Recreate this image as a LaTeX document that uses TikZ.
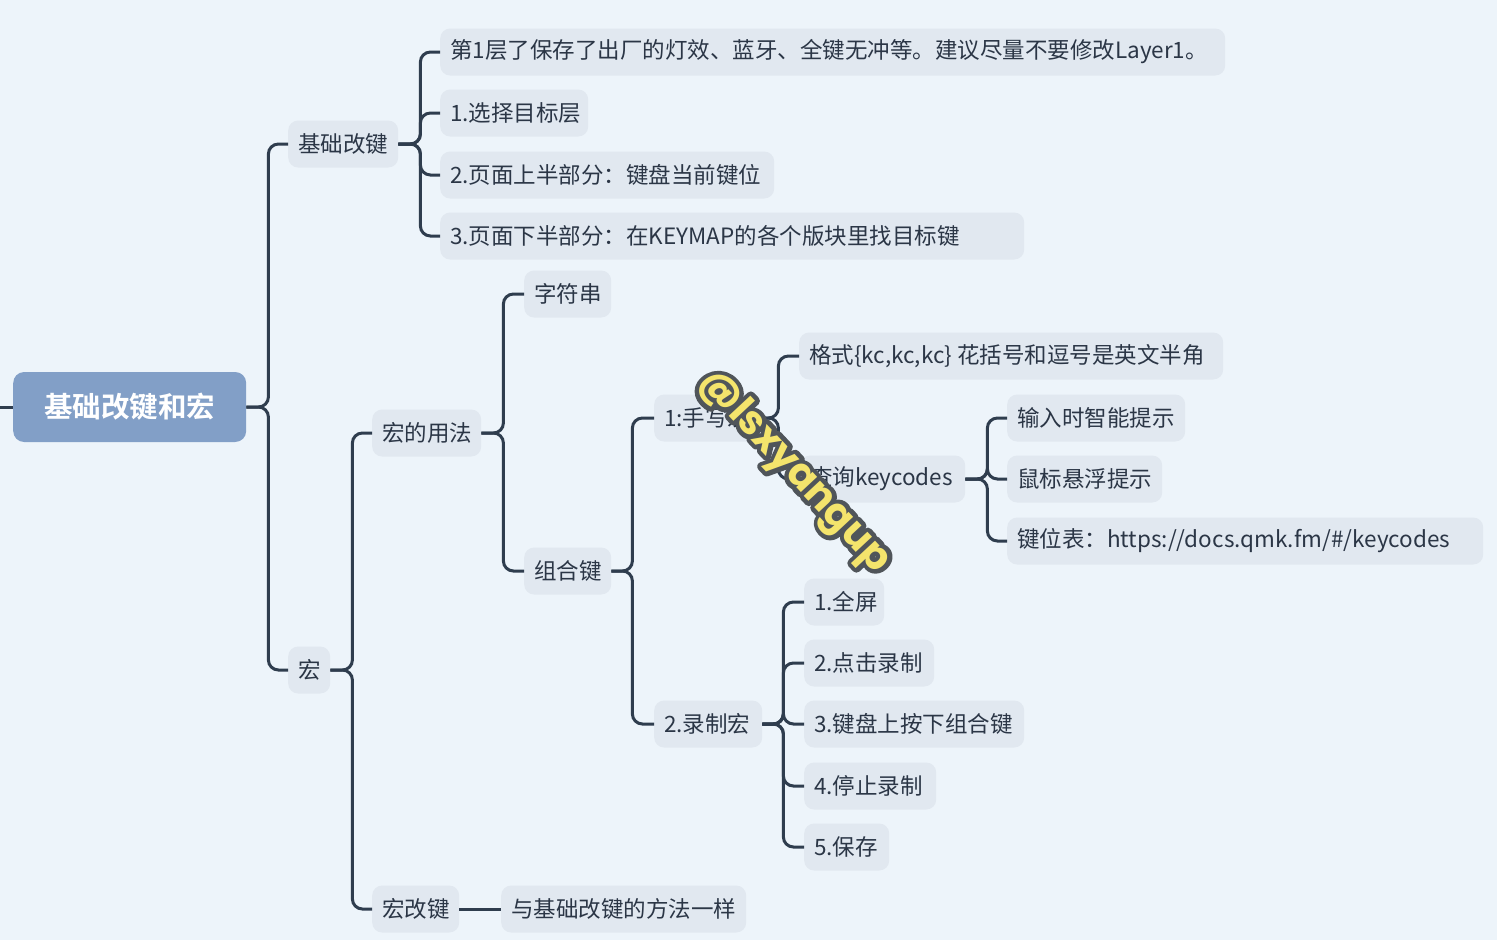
\documentclass[tikz,border=0pt]{standalone}
\usepackage{fontspec}
\setmainfont{Noto Sans CJK SC}[BoldFont={Noto Sans CJK SC Bold}]
\newfontfamily\wmfont{Poppins}
\definecolor{bgc}{HTML}{EDF4FA}
\definecolor{nodefill}{HTML}{E1E8F0}
\definecolor{rootfill}{HTML}{829FC7}
\definecolor{linec}{HTML}{2F3D4E}
\definecolor{txt}{HTML}{2B3646}
\definecolor{wmyellow}{HTML}{F4E46C}
\definecolor{wmout}{HTML}{50555A}
\newcommand\leafbox[2]{\makebox[#1pt][l]{#2}}
\newcommand\wmtext{@lsxyangup}
\begin{document}
\begin{tikzpicture}[x=1pt,y=-1pt,
  leaf/.style={fill=nodefill, rounded corners=10pt, minimum height=47pt,
    inner xsep=10pt, inner ysep=0pt, anchor=west, text=txt,
    font=\fontsize{22.5}{26}\selectfont},
  rootbox/.style={fill=rootfill, rounded corners=11pt, minimum height=70pt,
    minimum width=233pt, anchor=west, text=white,
    font=\fontsize{28.5}{33}\selectfont\bfseries},
  link/.style={draw=linec, line width=3pt, rounded corners=10pt},
  wm/.style={rotate=-47, font=\wmfont\bfseries\fontsize{40}{44}\selectfont}
]
\fill[bgc] (0,0) rectangle (1497,940);
\useasboundingbox (0,0) rectangle (1497,940);

% nodes
\node[rootbox] (root) at (13,407) {基础改键和宏};
\coordinate (lstub) at (0,407);

\node[leaf] (jc) at (288,144) {\leafbox{90}{基础改键}};
\node[leaf] (j1) at (440,52) {\leafbox{765}{第1层了保存了出厂的灯效、蓝牙、全键无冲等。建议尽量不要修改Layer1。}};
\node[leaf] (j2) at (440,113) {\leafbox{128}{1.选择目标层}};
\node[leaf] (j3) at (440,175) {\leafbox{314}{2.页面上半部分：键盘当前键位}};
\node[leaf] (j4) at (440,236) {\leafbox{564}{3.页面下半部分：在KEYMAP的各个版块里找目标键}};

\node[leaf] (h) at (288,670) {\leafbox{22}{宏}};
\node[leaf] (hy) at (372,433) {\leafbox{89}{宏的用法}};
\node[leaf] (hg) at (372,909) {\leafbox{67}{宏改键}};
\node[leaf] (hg1) at (501,909) {\leafbox{225}{与基础改键的方法一样}};

\node[leaf] (zf) at (524,294) {\leafbox{67}{字符串}};
\node[leaf] (zh) at (524,571) {\leafbox{67}{组合键}};

\node[leaf] (sx) at (654,418) {\leafbox{82}{1:手写宏}};
\node[leaf] (lz) at (654,724) {\leafbox{88}{2.录制宏}};

\node[leaf] (gs) at (799,356) {\leafbox{404}{格式\{kc,kc,kc\} 花括号和逗号是英文半角}};
\node[leaf] (cx) at (800,479) {\leafbox{145}{查询keycodes}};

\node[leaf] (k1) at (1007,418) {\leafbox{158}{输入时智能提示}};
\node[leaf] (k2) at (1007,479) {\leafbox{135}{鼠标悬浮提示}};
\node[leaf] (k3) at (1007,541) {\leafbox{456}{键位表：https://docs.qmk.fm/\#/keycodes}};

\node[leaf] (r1) at (804,602) {\leafbox{60}{1.全屏}};
\node[leaf] (r2) at (804,663) {\leafbox{110}{2.点击录制}};
\node[leaf] (r3) at (804,724) {\leafbox{200}{3.键盘上按下组合键}};
\node[leaf] (r4) at (804,786) {\leafbox{112}{4.停止录制}};
\node[leaf] (r5) at (804,847) {\leafbox{65}{5.保存}};

% connectors
\draw[link] (lstub) -- (root.west);
\foreach \c in {jc,h} \draw[link] (root.east) -- ++(22,0) |- (\c.west);
\foreach \c in {j1,j2,j3,j4} \draw[link] (jc.east) -- ++(22,0) |- (\c.west);
\foreach \c in {hy,hg} \draw[link] (h.east) -- ++(22,0) |- (\c.west);
\draw[link] (hg.east) -- (hg1.west);
\foreach \c in {zf,zh} \draw[link] (hy.east) -- ++(22,0) |- (\c.west);
\foreach \c in {sx,lz} \draw[link] (zh.east) -- ++(21,0) |- (\c.west);
\foreach \c in {gs,cx} \draw[link] (sx.east) -- ++(22,0) |- (\c.west);
\foreach \c in {k1,k2,k3} \draw[link] (cx.east) -- ++(22,0) |- (\c.west);
\foreach \c in {r1,r2,r3,r4,r5} \draw[link] (lz.east) -- ++(21,0) |- (\c.west);

% watermark (outlined text)
\node[wm] (wmark) at (794,472) {\rlap{\color{wmout}\special{pdf:literal direct 2 Tr 9 w 1 j}\wmtext\special{pdf:literal direct 0 Tr}}\color{wmyellow}\wmtext};
\end{tikzpicture}
\end{document}
